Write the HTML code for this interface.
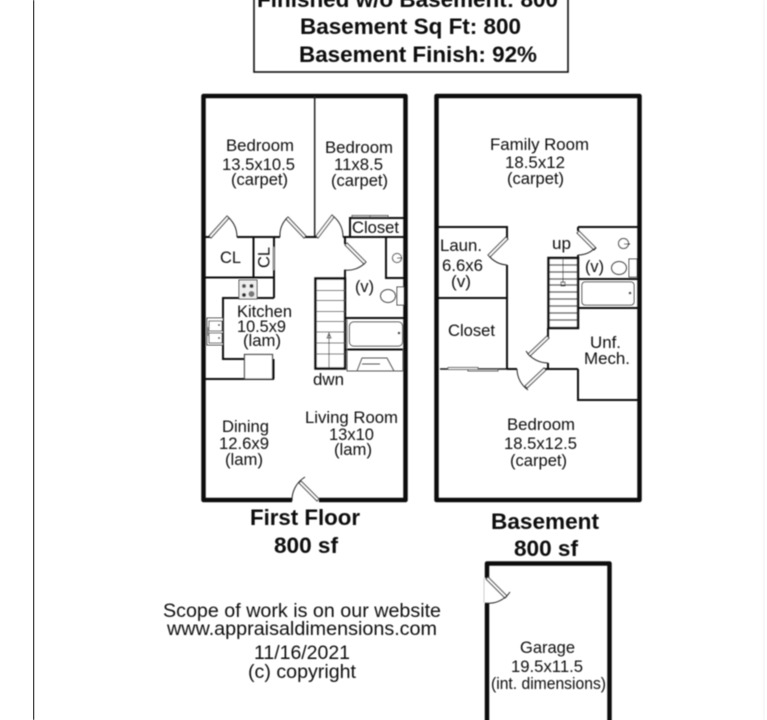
<!DOCTYPE html>
<html>
<head>
<meta charset="utf-8">
<style>
html,body{margin:0;padding:0;background:#fff;width:767px;height:720px;overflow:hidden}
svg{display:block}
text{font-family:"Liberation Sans",Arial,sans-serif;fill:#111}
.b{font-weight:bold;fill:#0a0a0a}
.w{fill:none;stroke:#111;stroke-width:2}
.t{fill:none;stroke:#111;stroke-width:4.5;stroke-linejoin:round}
.n{fill:none;stroke:#222;stroke-width:1}
.g{fill:#fff;stroke:#555;stroke-width:1}
.p{fill:#fff;stroke:#333;stroke-width:1}
</style>
</head>
<body>
<svg width="767" height="720" viewBox="0 0 767 720" xmlns="http://www.w3.org/2000/svg">
<defs><filter id="s" x="0" y="0" width="100%" height="100%"><feGaussianBlur stdDeviation="0.4"/></filter></defs>
<rect width="767" height="720" fill="#fff"/>
<g filter="url(#s)">
<line x1="33" y1="0" x2="33" y2="720" stroke="#111" stroke-width="2"/>
<line x1="764.5" y1="0" x2="764.5" y2="720" stroke="#eee" stroke-width="1.5"/>

<!-- title box -->
<rect x="254" y="-10" width="314" height="82" fill="none" stroke="#111" stroke-width="1.6"/>
<text class="b" x="257" y="7" font-size="22.5" textLength="301" lengthAdjust="spacingAndGlyphs">Finished w/o Basement: 800</text>
<text class="b" x="300" y="34" font-size="22.5" textLength="221" lengthAdjust="spacingAndGlyphs">Basement Sq Ft: 800</text>
<text class="b" x="299" y="62" font-size="22.5" textLength="238" lengthAdjust="spacingAndGlyphs">Basement Finish: 92%</text>

<!-- FIRST FLOOR -->
<path class="t" d="M292 500H203.5V96H405.5V500H319"/>
<path d="M314.7 96V237" fill="none" stroke="#222" stroke-width="1.5"/>
<path class="w" d="M204 237H210M237 237H280M305 237H317M343 237H405"/>
<path class="w" d="M350 237V218H405"/>
<path class="g" d="M352 217H370V215.5H352ZM370 217H388V215.5H370Z"/>
<!-- bedroom doors -->
<path class="p" d="M209 236L227 216L229 218L211 238Z"/><path class="n" d="M228 217A27 27 0 0 1 237 237"/>
<path class="p" d="M306 236L288 217L286 219L304 238Z"/><path class="n" d="M287 218A25 25 0 0 0 280 237"/>
<path class="p" d="M316 236L332 215L334 217L318 238Z"/><path class="n" d="M333 216A26 26 0 0 1 343 237"/>
<!-- closets -->
<path class="w" d="M204 277.5H274M253.5 237V278M274 237V298M223 298H274M223 297V360M223 359H245M205 379H274"/>
<line x1="273.5" y1="247" x2="273.5" y2="270" stroke="#999" stroke-width="2"/>
<!-- stove -->
<rect x="239" y="280" width="18" height="19" fill="#eee" stroke="#444" stroke-width="1"/>
<circle cx="244" cy="286" r="2" fill="#555"/><circle cx="251.5" cy="286" r="2" fill="#333"/><circle cx="244" cy="295" r="2" fill="#333"/><circle cx="251.5" cy="294" r="3" fill="#777"/>
<!-- kitchen sink -->
<rect x="207" y="318" width="16" height="27" class="p"/><rect x="209" y="321" width="13" height="10" class="p"/><rect x="209" y="333" width="13" height="10" class="p"/>
<rect x="206" y="327" width="3" height="9" fill="#888"/>
<circle cx="219" cy="325" r="1" fill="#333"/><circle cx="219" cy="338" r="1" fill="#333"/>
<!-- fridge/counter -->
<rect x="244.5" y="354.5" width="28" height="24.5" fill="#fff" stroke="#333" stroke-width="1.2"/>
<path class="w" d="M273.5 359V379"/>
<!-- bath -->
<path class="w" d="M345 237V244M345 270V318M386 237V278H405"/>
<path class="p" d="M345 245L364 264L366 262L347 243Z"/><path class="n" d="M365 263A25 25 0 0 1 344 270"/>
<path class="w" d="M346 318H405M346 349.5H405"/>
<path d="M347 319V348" stroke="#777" fill="none"/>
<rect x="349.5" y="322" width="53" height="24" rx="4" class="p"/>
<circle cx="399" cy="333" r="1.3" fill="#333"/>
<path d="M347 349V371H403V349M357 371L362 358H387L394 371M362 364H380" fill="none" stroke="#555" stroke-width="1"/>
<circle cx="397" cy="258" r="4.5" class="p"/><path class="n" d="M397 258H402"/>
<ellipse cx="388" cy="296" rx="7.5" ry="6.5" fill="none" stroke="#444"/><rect x="397" y="287" width="7" height="18" class="p"/>
<!-- stairs -->
<rect x="315.5" y="278.5" width="29.5" height="90" fill="#fff" stroke="#111" stroke-width="2.5"/>
<path d="M316 290.5H345M316 300.5H345M316 311.5H345M316 321.5H345M316 332H345M316 343H345M316 354H345" stroke="#555" stroke-width="1"/>
<path d="M329 368V335M327 338L329 333L331 338Z" fill="none" stroke="#444" stroke-width="0.9"/>

<text x="226" y="151" font-size="17" textLength="68" lengthAdjust="spacingAndGlyphs">Bedroom</text>
<text x="222" y="170" font-size="17" textLength="73" lengthAdjust="spacingAndGlyphs">13.5x10.5</text>
<text x="231" y="185" font-size="17" textLength="57" lengthAdjust="spacingAndGlyphs">(carpet)</text>
<text x="325" y="153" font-size="17" textLength="68" lengthAdjust="spacingAndGlyphs">Bedroom</text>
<text x="334" y="170" font-size="17" textLength="49" lengthAdjust="spacingAndGlyphs">11x8.5</text>
<text x="331" y="186" font-size="17" textLength="57" lengthAdjust="spacingAndGlyphs">(carpet)</text>
<text x="352" y="233" font-size="17" textLength="47" lengthAdjust="spacingAndGlyphs">Closet</text>
<text x="220" y="263" font-size="17" textLength="21" lengthAdjust="spacingAndGlyphs">CL</text>
<text transform="translate(269.5,268) rotate(-90)" font-size="17" textLength="21" lengthAdjust="spacingAndGlyphs">CL</text>
<text x="237" y="317" font-size="16.5" textLength="55" lengthAdjust="spacingAndGlyphs">Kitchen</text>
<text x="237" y="332" font-size="16.5" textLength="49" lengthAdjust="spacingAndGlyphs">10.5x9</text>
<text x="243" y="346" font-size="16.5" textLength="38" lengthAdjust="spacingAndGlyphs">(lam)</text>
<text x="355" y="292" font-size="17" textLength="19" lengthAdjust="spacingAndGlyphs">(v)</text>
<text x="313" y="385" font-size="17" textLength="31" lengthAdjust="spacingAndGlyphs">dwn</text>
<text x="222" y="432" font-size="17" textLength="47" lengthAdjust="spacingAndGlyphs">Dining</text>
<text x="219" y="449" font-size="17" textLength="50" lengthAdjust="spacingAndGlyphs">12.6x9</text>
<text x="225" y="465" font-size="17" textLength="38" lengthAdjust="spacingAndGlyphs">(lam)</text>
<text x="305" y="423" font-size="17" textLength="93" lengthAdjust="spacingAndGlyphs">Living Room</text>
<text x="329" y="440" font-size="17" textLength="45" lengthAdjust="spacingAndGlyphs">13x10</text>
<text x="334" y="455" font-size="17" textLength="38" lengthAdjust="spacingAndGlyphs">(lam)</text>
<!-- front door -->
<path class="p" d="M319 499L301 481L299 483L317 501Z"/><path class="n" d="M305 477A27 27 0 0 0 292 501"/>

<!-- BASEMENT -->
<path class="t" d="M436.5 96H639.5V500H436.5Z"/>
<path class="w" d="M438 227H507V238M507 265V369M438 298H507M507 369H517M543 369H578M578 369V400H638M548 328V337M548 363V369"/>
<path class="w" d="M578 227H638M578 227V231M578 255V328M578 279H638M578 308H638"/>
<path d="M440 369H507" stroke="#111" stroke-width="1.5"/>
<path class="g" d="M448 367.5H478V369.5H448ZM468 369.5H498V371H468Z"/>
<!-- doors -->
<path class="p" d="M506 237L488 255L490 257L508 239Z"/><path class="n" d="M489 256A26 26 0 0 0 507 265"/>
<path class="p" d="M544 368L525 386L527 388L546 370Z"/><path class="n" d="M517 369A26 26 0 0 0 528 390"/>
<path class="p" d="M547 336L528 354L530 356L549 338Z"/><path class="n" d="M526 351A26 26 0 0 0 548 363"/>
<path class="p" d="M579 231L596 248L594 250L577 233Z"/><path class="n" d="M595 248A24 24 0 0 1 578 255"/>
<!-- fixtures -->
<circle cx="623.5" cy="243.5" r="5" class="p"/><path class="n" d="M624 244H630"/>
<ellipse cx="619" cy="268" rx="7.5" ry="6.5" fill="none" stroke="#444"/><rect x="629" y="259" width="8" height="18" class="p"/>
<rect x="582" y="282" width="52" height="23" rx="3" class="p"/><circle cx="630" cy="293" r="1.3" fill="#333"/>
<!-- stairs -->
<rect x="548.5" y="258" width="29.5" height="70" fill="#fff" stroke="#111" stroke-width="2.5"/>
<path d="M549 265H578M549 272H578M549 279H578M549 285H578M549 292H578M549 299H578M549 306H578M549 313H578M549 320H578" stroke="#333" stroke-width="1.2"/>
<path d="M563 258V283M561 282H565V286H561Z" fill="none" stroke="#444" stroke-width="0.9"/>

<text x="490" y="150" font-size="17" textLength="99" lengthAdjust="spacingAndGlyphs">Family Room</text>
<text x="505" y="168" font-size="17" textLength="60" lengthAdjust="spacingAndGlyphs">18.5x12</text>
<text x="507" y="184" font-size="17" textLength="57" lengthAdjust="spacingAndGlyphs">(carpet)</text>
<text x="440" y="251" font-size="17" textLength="42" lengthAdjust="spacingAndGlyphs">Laun.</text>
<text x="442" y="271" font-size="17" textLength="41" lengthAdjust="spacingAndGlyphs">6.6x6</text>
<text x="451" y="287" font-size="17" textLength="20" lengthAdjust="spacingAndGlyphs">(v)</text>
<text x="448" y="336" font-size="17" textLength="47" lengthAdjust="spacingAndGlyphs">Closet</text>
<text x="552" y="249" font-size="17" textLength="19" lengthAdjust="spacingAndGlyphs">up</text>
<text x="585" y="272" font-size="17" textLength="19" lengthAdjust="spacingAndGlyphs">(v)</text>
<text x="590" y="348" font-size="17" textLength="31" lengthAdjust="spacingAndGlyphs">Unf.</text>
<text x="584" y="364" font-size="17" textLength="46" lengthAdjust="spacingAndGlyphs">Mech.</text>
<text x="507" y="430" font-size="17" textLength="68" lengthAdjust="spacingAndGlyphs">Bedroom</text>
<text x="504" y="449" font-size="17" textLength="73" lengthAdjust="spacingAndGlyphs">18.5x12.5</text>
<text x="510" y="466" font-size="17" textLength="57" lengthAdjust="spacingAndGlyphs">(carpet)</text>

<!-- floor labels -->
<text class="b" x="250" y="525" font-size="22" textLength="110" lengthAdjust="spacingAndGlyphs">First Floor</text>
<text class="b" x="274" y="553" font-size="22" textLength="64" lengthAdjust="spacingAndGlyphs">800 sf</text>
<text class="b" x="491" y="529" font-size="22" textLength="108" lengthAdjust="spacingAndGlyphs">Basement</text>
<text class="b" x="514" y="556" font-size="22" textLength="64" lengthAdjust="spacingAndGlyphs">800 sf</text>

<!-- footer text -->
<text x="163" y="617" font-size="19.5" textLength="278" lengthAdjust="spacingAndGlyphs">Scope of work is on our website</text>
<text x="167" y="635" font-size="19.5" textLength="270" lengthAdjust="spacingAndGlyphs">www.appraisaldimensions.com</text>
<text x="254" y="659" font-size="19.5" textLength="96" lengthAdjust="spacingAndGlyphs">11/16/2021</text>
<text x="248" y="678" font-size="19.5" textLength="108" lengthAdjust="spacingAndGlyphs">(c) copyright</text>

<!-- GARAGE -->
<path class="t" d="M487 578V563.5H609.5V725M487 603V725"/>
<path class="p" d="M488 577L507 596L505 598L486 579Z"/><path class="n" d="M510 592A26 26 0 0 1 485 603"/>
<path d="M484 578V603" stroke="#ccc" stroke-width="1"/>
<text x="520" y="653" font-size="16.5" textLength="55" lengthAdjust="spacingAndGlyphs">Garage</text>
<text x="511" y="672" font-size="16.5" textLength="72" lengthAdjust="spacingAndGlyphs">19.5x11.5</text>
<text x="491" y="689" font-size="16.5" textLength="115" lengthAdjust="spacingAndGlyphs">(int. dimensions)</text>
</g>
</svg>
</body>
</html>
